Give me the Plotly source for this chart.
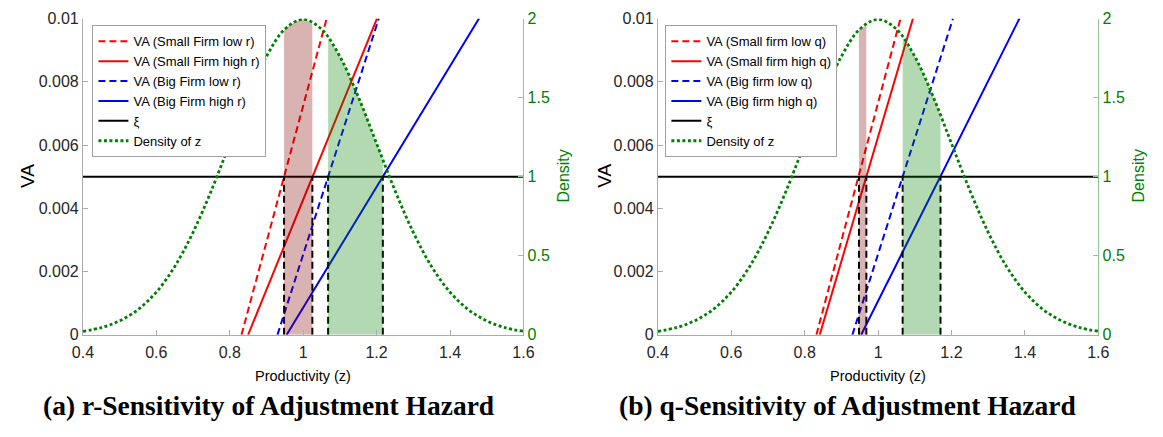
import numpy as np
import plotly.graph_objects as go

W, H = 1163, 437

# ---------------- data ----------------
x_tick_vals = [0.4, 0.6, 0.8, 1.0, 1.2, 1.4, 1.6]
x_tick_text = ["0.4", "0.6", "0.8", "1", "1.2", "1.4", "1.6"]
va_tick_vals = [0, 0.002, 0.004, 0.006, 0.008, 0.01]
va_tick_text = ["0", "0.002", "0.004", "0.006", "0.008", "0.01"]
dens_tick_vals = [0, 0.5, 1, 1.5, 2]
dens_tick_text = ["0", "0.5", "1", "1.5", "2"]

# density of z
z_grid = [0.40, 0.45, 0.50, 0.55, 0.60, 0.65, 0.70, 0.75, 0.80, 0.85, 0.90, 0.95, 1.00,
          1.05, 1.10, 1.15, 1.20, 1.25, 1.30, 1.35, 1.40, 1.45, 1.50, 1.55, 1.60]
density = [0.022, 0.045, 0.088, 0.159, 0.270, 0.431, 0.648, 0.913, 1.210, 1.506, 1.760, 1.933, 1.995,
           1.933, 1.760, 1.506, 1.210, 0.913, 0.648, 0.431, 0.270, 0.159, 0.088, 0.045, 0.022]

va_ends = [0.0, 0.01]       # VA at the two ends of each straight line
xi_level = 0.005

# panel (a): z where each VA line is at 0 and at 0.01
a_small_low = [0.832, 1.064]
a_small_high = [0.850, 1.201]
a_big_low = [0.930, 1.206]
a_big_high = [0.955, 1.479]
a_thresholds = [0.948, 1.025, 1.068, 1.217]
a_labels = ["VA (Small Firm low r)", "VA (Small Firm high r)",
            "VA (Big Firm low r)", "VA (Big Firm high r)", "ξ", "Density of z"]

# panel (b)
b_small_low = [0.832, 1.061]
b_small_high = [0.841, 1.095]
b_big_low = [0.930, 1.204]
b_big_high = [0.954, 1.385]
b_thresholds = [0.948, 0.968, 1.067, 1.170]
b_labels = ["VA (Small firm low q)", "VA (Small firm high q)",
            "VA (Big firm low q)", "VA (Big firm high q)", "ξ", "Density of z"]

captions = ["(a) r-Sensitivity of Adjustment Hazard", "(b) q-Sensitivity of Adjustment Hazard"]

# ---------------- style ----------------
SANS = "Liberation Sans, Arial, Helvetica, sans-serif"
SERIF = "Liberation Serif, Times New Roman, serif"
RED = "#ff0000"
BLUE = "#0000ff"
DGREEN = "#008000"
AXGRAY = "#ababab"
AXGREEN = "#94c494"
RED_FILL = "rgba(128,0,0,0.30)"
GREEN_FILL = "rgba(0,128,0,0.30)"
DASH = "7px,4px"
LW = 2
TICKSIZE = 16

fig = go.Figure()


def band(a, b):
    xs = [a] + [z for z in z_grid if a < z < b] + [b]
    ys = list(np.interp(xs, z_grid, density))
    return xs, ys


def add_panel(xa, ya, ya2, legend, lines, thresholds, labels):
    sl, sh, bl, bh = lines
    specs = [(sl, RED, DASH), (sh, RED, "solid"), (bl, BLUE, DASH), (bh, BLUE, "solid")]
    for (zz, col, dash), lab in zip(specs, labels[:4]):
        fig.add_trace(go.Scatter(x=zz, y=va_ends, mode="lines", name=lab,
                                 line=dict(color=col, width=LW, dash=dash),
                                 xaxis=xa, yaxis=ya, legend=legend, hoverinfo="skip"))
    # xi line
    fig.add_trace(go.Scatter(x=[x_tick_vals[0], x_tick_vals[-1]], y=[xi_level, xi_level],
                             mode="lines", name=labels[4],
                             line=dict(color="black", width=LW),
                             xaxis=xa, yaxis=ya, legend=legend, hoverinfo="skip"))
    # vertical dashed threshold lines
    for t in thresholds:
        fig.add_trace(go.Scatter(x=[t, t], y=[0, xi_level], mode="lines",
                                 line=dict(color="black", width=LW, dash=DASH),
                                 xaxis=xa, yaxis=ya, showlegend=False, hoverinfo="skip"))
    # shaded bands under the density
    for (a, b), fc in [((thresholds[0], thresholds[1]), RED_FILL),
                       ((thresholds[2], thresholds[3]), GREEN_FILL)]:
        xs, ys = band(a, b)
        fig.add_trace(go.Scatter(x=xs, y=ys, mode="lines", fill="tozeroy",
                                 fillcolor=fc, line=dict(width=0, shape="spline"),
                                 xaxis=xa, yaxis=ya2, showlegend=False, hoverinfo="skip"))
    # density
    fig.add_trace(go.Scatter(x=z_grid, y=density, mode="lines", name=labels[5],
                             line=dict(color=DGREEN, width=2.8, dash="3px,2.5px", shape="spline"),
                             xaxis=xa, yaxis=ya2, legend=legend, hoverinfo="skip"))


add_panel("x", "y", "y2", "legend", [a_small_low, a_small_high, a_big_low, a_big_high],
          a_thresholds, a_labels)
add_panel("x2", "y3", "y4", "legend2", [b_small_low, b_small_high, b_big_low, b_big_high],
          b_thresholds, b_labels)

# ---------------- layout ----------------
ydom = [1 - 340 / H, 1 - 11 / H]
xdom1 = [73.3 / W, 522.3 / W]
xdom2 = [659.3 / W, 1108.3 / W]


def xax(dom, anchor):
    return dict(domain=dom, anchor=anchor, range=[0.4, 1.6], tickvals=x_tick_vals,
                ticktext=x_tick_text, ticks="inside", ticklen=5, tickcolor=AXGRAY,
                showline=True, linecolor=AXGRAY, linewidth=1, showgrid=False, zeroline=False,
                ticklabelstandoff=3,
                tickfont=dict(family=SANS, size=TICKSIZE, color="#262626"), fixedrange=True)


def yax(anchor):
    return dict(domain=ydom, anchor=anchor, range=[0, 0.01], tickvals=va_tick_vals,
                ticktext=va_tick_text, ticks="inside", ticklen=5, tickcolor=AXGRAY,
                showline=True, linecolor=AXGRAY, linewidth=1, showgrid=False, zeroline=False,
                tickfont=dict(family=SANS, size=TICKSIZE, color="#262626"), fixedrange=True)


def y2ax(anchor, over):
    return dict(overlaying=over, side="right", anchor=anchor, range=[0, 2],
                tickvals=dens_tick_vals, ticktext=dens_tick_text, ticks="inside", ticklen=5,
                tickcolor=AXGREEN, showline=True, linecolor=AXGREEN, linewidth=1,
                showgrid=False, zeroline=False,
                tickfont=dict(family=SANS, size=TICKSIZE, color=DGREEN), fixedrange=True)


def leg(xpx):
    return dict(x=xpx / W, y=1 - 18 / H, xanchor="left", yanchor="top",
                bgcolor="white", bordercolor="#a0a0a0", borderwidth=1,
                font=dict(family=SANS, size=13, color="black"),
                tracegroupgap=0, itemwidth=30)


def ann(text, xpx, ypx, size, color="black", angle=0, family=SANS, bold=False):
    return dict(text=("<b>%s</b>" % text) if bold else text, x=xpx / W, y=1 - ypx / H,
                xref="paper", yref="paper", xanchor="center", yanchor="middle",
                showarrow=False, textangle=angle, font=dict(family=family, size=size, color=color))


annotations = [
    ann("VA", 16, 175, 19, angle=-90),
    ann("VA", 605, 175, 19, angle=-90),
    ann("Density", 563, 175, 16, color=DGREEN, angle=-90),
    ann("Density", 1149, 175, 16, color=DGREEN, angle=-90),
    ann("Productivity (z)", 297.8, 383, 14.5),
    ann("Productivity (z)", 883.8, 383, 14.5),
    ann(captions[0], 262, 414, 27.5, family=SERIF, bold=True),
    ann(captions[1], 853, 414, 27.5, family=SERIF, bold=True),
]

fig.update_layout(
    width=W, height=H, autosize=False,
    margin=dict(l=0, r=0, t=0, b=0),
    paper_bgcolor="white", plot_bgcolor="white",
    xaxis=xax(xdom1, "y"), yaxis=yax("x"), yaxis2=y2ax("x", "y"),
    xaxis2=xax(xdom2, "y3"), yaxis3=yax("x2"), yaxis4=y2ax("x2", "y3"),
    legend=leg(83), legend2=leg(667),
    annotations=annotations,
    showlegend=True,
)

fig.write_html("out.html")
